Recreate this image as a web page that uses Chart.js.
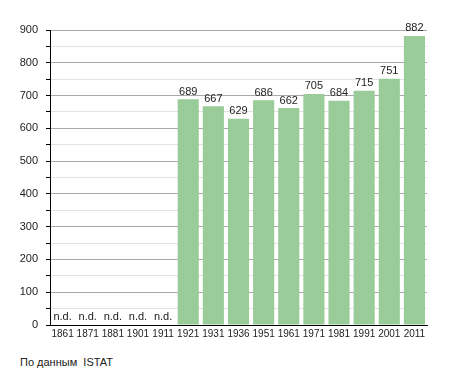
<!DOCTYPE html>
<html><head><meta charset="utf-8">
<script src="https://cdn.jsdelivr.net/npm/chart.js@4"></script>
<style>
html,body{margin:0;padding:0;background:#fff;}
#wrap{position:relative;width:455px;height:373px;}
#c{position:absolute;left:0;top:0;}
#src{position:absolute;left:20px;top:356px;font:11px "Liberation Sans",Arial,sans-serif;color:#222;white-space:pre;}
</style></head>
<body>
<div id="wrap"><canvas id="c" width="455" height="345"></canvas><div id="src">По данным  ISTAT</div></div>
<script>
const years = ['1861','1871','1881','1901','1911','1921','1931','1936','1951','1961','1971','1981','1991','2001','2011'];
const population = [null,null,null,null,null,689,667,629,686,662,705,684,715,751,882];
const missingLabel = 'n.d.';
const yMax = 900;
const yStep = 50;

const FONT = '"Liberation Sans", Arial, sans-serif';

const labelPlugin = {
  id: 'labels',
  afterDatasetsDraw(chart) {
    const ctx = chart.ctx;
    const meta = chart.getDatasetMeta(0);
    const yScale = chart.scales.y;
    ctx.save();
    ctx.font = '11px ' + FONT;
    ctx.fillStyle = '#222';
    ctx.textAlign = 'center';
    ctx.textBaseline = 'bottom';
    meta.data.forEach((bar, i) => {
      const v = population[i];
      if (v === null) {
        ctx.fillText(missingLabel, bar.x, yScale.getPixelForValue(0) - 3);
      } else {
        ctx.fillText(String(v), bar.x, bar.y - 2);
      }
    });
    ctx.restore();
  }
};

new Chart(document.getElementById('c'), {
  type: 'bar',
  data: {
    labels: years,
    datasets: [{
      data: population,
      backgroundColor: '#99cc99',
      borderWidth: 0,
      categoryPercentage: 1,
      barPercentage: 0.84
    }]
  },
  options: {
    responsive: false,
    animation: false,
    layout: { padding: { left: 0, right: 28, top: 30, bottom: 2 } },
    plugins: { legend: { display: false }, tooltip: { enabled: false } },
    scales: {
      x: {
        afterFit(s) { s.height = 18; },
        grid: { display: false, drawTicks: false, tickLength: 0 },
        border: { display: true, color: '#000', width: 1 },
        ticks: { color: '#222', font: { family: FONT, size: 10 }, padding: 3, maxRotation: 0, autoSkip: false }
      },
      y: {
        min: 0, max: yMax,
        afterFit(s) { s.width = 50; },
        border: { display: true, color: '#000', width: 1 },
        grid: {
          color: c => (c.tick && c.tick.value % 100 === 0) ? '#a8a8a8' : '#e2e2e2',
          tickColor: '#000',
          tickLength: 4
        },
        ticks: {
          stepSize: yStep,
          autoSkip: false,
          padding: 8,
          color: '#222',
          font: { family: FONT, size: 11 },
          callback: v => (v % 100 === 0 ? v : '')
        }
      }
    }
  },
  plugins: [labelPlugin]
});
</script>
</body></html>
